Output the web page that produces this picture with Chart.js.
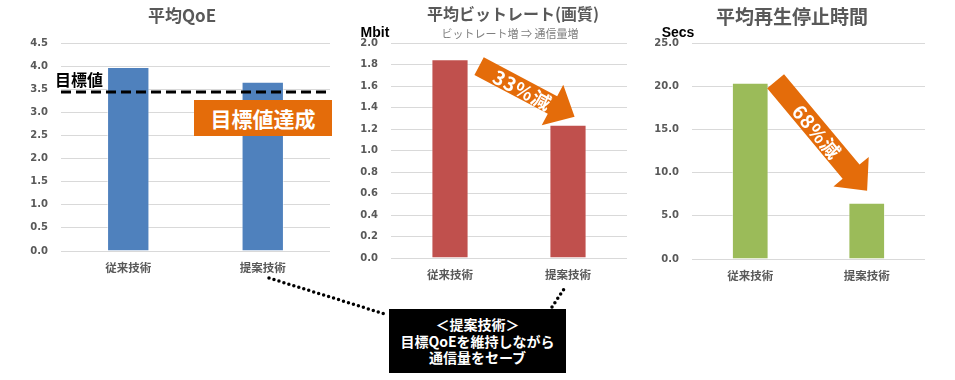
<!DOCTYPE html>
<html><head><meta charset="utf-8">
<script src="https://cdn.jsdelivr.net/npm/chart.js@4.4.1/dist/chart.umd.min.js"></script>
<style>
html,body{margin:0;padding:0;background:#fff;width:955px;height:380px;overflow:hidden;position:relative;font-family:'Noto Sans CJK JP',sans-serif}
canvas{position:absolute;top:0}
.t{position:absolute;transform:translate(-50%,-50%);white-space:nowrap;line-height:1}
.ttl{font-weight:bold;color:#595959}
#goalBox{position:absolute;left:194px;top:100px;width:138px;height:36px;background:#E46C0A;color:#fff;font-weight:bold;font-size:21px;display:flex;align-items:center;justify-content:center}
#noteBox{position:absolute;left:389px;top:309px;width:177px;height:64px;background:#000;color:#fff;font-weight:bold;font-size:14px;line-height:16.5px;display:flex;flex-direction:column;align-items:center;justify-content:center;text-align:center}
svg{position:absolute;left:0;top:0}
</style></head><body>
<canvas id="c1" width="340" height="290" style="left:0px"></canvas>
<canvas id="c2" width="300" height="290" style="left:340px"></canvas>
<canvas id="c3" width="315" height="290" style="left:640px"></canvas>
<svg width="955" height="380"><g stroke="#000" stroke-width="3.5" stroke-linecap="round" stroke-dasharray="0 5.2" fill="none">
<line x1="269" y1="278" x2="388" y2="315"/>
<line x1="552" y1="307" x2="566" y2="286"/>
</g></svg>
<div class="t ttl" style="left:182px;top:14px;font-size:17px">平均QoE</div>
<div class="t ttl" style="left:513px;top:13px;font-size:16px">平均ビットレート(画質)</div>
<div class="t" style="left:510px;top:33px;font-size:11px;color:#7F7F7F">ビットレート増 ⇒ 通信量増</div>
<div class="t ttl" style="left:792px;top:15px;font-size:19px">平均再生停止時間</div>
<div class="t" style="left:375px;top:32px;font-size:14px;font-weight:bold;color:#000;font-family:'Liberation Sans',sans-serif">Mbit</div>
<div class="t" style="left:678px;top:32px;font-size:14px;font-weight:bold;color:#000;font-family:'Liberation Sans',sans-serif">Secs</div>
<div class="t" style="left:79px;top:79px;font-size:16px;font-weight:bold;color:#000">目標値</div>
<div id="goalBox">目標値達成</div>
<div id="noteBox"><div>＜提案技術＞</div><div>目標QoEを維持しながら</div><div>通信量をセーブ</div></div>
<script>
// ---- data ----
const categories = ["従来技術", "提案技術"];
const qoeValues = [3.98, 3.66];
const qoeTarget = 3.44;
const bitrateValues = [1.85, 1.24];
const stallValues = [20.4, 6.5];
const qoeTicks = [0, 4.5, 0.5];      // min, max, step
const bitrateTicks = [0, 2.0, 0.2];
const stallTicks = [0, 25, 5];
const bitrateLabel = "33%減";
const stallLabel = "68%減";

Chart.defaults.font.family = "'Noto Sans CJK JP', sans-serif";
const GRID = '#D9D9D9', TXT = '#595959', ORANGE = '#E46C0A';

function makeOpts(yWidth, xHeight, rightPad, ticks) {
  return {
    responsive: false, animation: false, devicePixelRatio: 1,
    layout: { padding: { left: 0, right: rightPad, top: 43, bottom: 0 } },
    plugins: { legend: { display: false }, tooltip: { enabled: false }, title: { display: false } },
    scales: {
      x: {
        grid: { display: false, drawTicks: false }, border: { display: false },
        ticks: { color: TXT, padding: 10, font: { size: 11.5, weight: 'bold' } },
        afterFit: s => { s.height = xHeight; }
      },
      y: {
        min: ticks[0], max: ticks[1],
        grid: { color: GRID, lineWidth: 1, drawTicks: false }, border: { display: false },
        ticks: { stepSize: ticks[2], color: TXT, padding: 13,
          font: { size: 10, weight: 'bold', family: "'DejaVu Sans', sans-serif" },
          callback: v => Number(v).toFixed(1) },
        afterFit: s => { s.width = yWidth; }
      }
    }
  };
}

function dataset(values, color) {
  return { labels: categories, datasets: [{ data: values, backgroundColor: color,
    borderColor: 'rgba(255,255,255,0.5)', borderWidth: 1,
    categoryPercentage: 0.315, barPercentage: 1 }] };
}

const targetPlugin = {
  id: 'target',
  afterDatasetsDraw(chart) {
    const { ctx, chartArea, scales } = chart;
    const y = scales.y.getPixelForValue(qoeTarget);
    ctx.save();
    ctx.strokeStyle = '#000'; ctx.lineWidth = 3; ctx.setLineDash([10, 5]);
    ctx.beginPath(); ctx.moveTo(chartArea.left, y); ctx.lineTo(chartArea.right - 2, y); ctx.stroke();
    ctx.restore();
  }
};

function arrowPlugin(text, tailOff, tipOff, shaftW) {
  return {
    id: 'arrow',
    afterDatasetsDraw(chart) {
      const ctx = chart.ctx;
      const bars = chart.getDatasetMeta(0).data;
      const b0 = bars[0], b1 = bars[1];
      const x0 = b0.x + b0.width / 2 + tailOff[0], y0 = b0.y + tailOff[1];
      const x1 = b1.x + b1.width / 2 + tipOff[0], y1 = b1.y + tipOff[1];
      const dx = x1 - x0, dy = y1 - y0, L = Math.hypot(dx, dy);
      const ux = dx / L, uy = dy / L, px = -uy, py = ux;
      const headL = 25, headW = 46;
      const bx = x1 - ux * headL, by = y1 - uy * headL;
      ctx.save();
      ctx.fillStyle = ORANGE;
      ctx.beginPath();
      ctx.moveTo(x0 + px * shaftW / 2, y0 + py * shaftW / 2);
      ctx.lineTo(bx + px * shaftW / 2, by + py * shaftW / 2);
      ctx.lineTo(bx + px * headW / 2, by + py * headW / 2);
      ctx.lineTo(x1, y1);
      ctx.lineTo(bx - px * headW / 2, by - py * headW / 2);
      ctx.lineTo(bx - px * shaftW / 2, by - py * shaftW / 2);
      ctx.lineTo(x0 - px * shaftW / 2, y0 - py * shaftW / 2);
      ctx.closePath(); ctx.fill();
      ctx.translate(x0 + ux * L * 0.45, y0 + uy * L * 0.45);
      ctx.rotate(Math.atan2(dy, dx));
      ctx.fillStyle = '#fff';
      ctx.font = "bold 19px 'Noto Sans CJK JP', sans-serif";
      try { ctx.letterSpacing = '1px'; } catch (e) {}
      ctx.textAlign = 'center'; ctx.textBaseline = 'middle';
      ctx.fillText(text, 1, 1);
      ctx.restore();
    }
  };
}

new Chart(document.getElementById('c1'), {
  type: 'bar', data: dataset(qoeValues, '#4F81BD'),
  options: makeOpts(61, 39, 10, qoeTicks), plugins: [targetPlugin]
});
new Chart(document.getElementById('c2'), {
  type: 'bar', data: dataset(bitrateValues, '#C0504D'),
  options: makeOpts(51, 32, 13, bitrateTicks),
  plugins: [arrowPlugin(bitrateLabel, [10.5, 7], [-12, -8], 20)]
});
new Chart(document.getElementById('c3'), {
  type: 'bar', data: dataset(stallValues, '#9BBB59'),
  options: makeOpts(52, 31, 30, stallTicks),
  plugins: [arrowPlugin(stallLabel, [7, -1.5], [-18, -12], 22)]
});
</script>
</body></html>
